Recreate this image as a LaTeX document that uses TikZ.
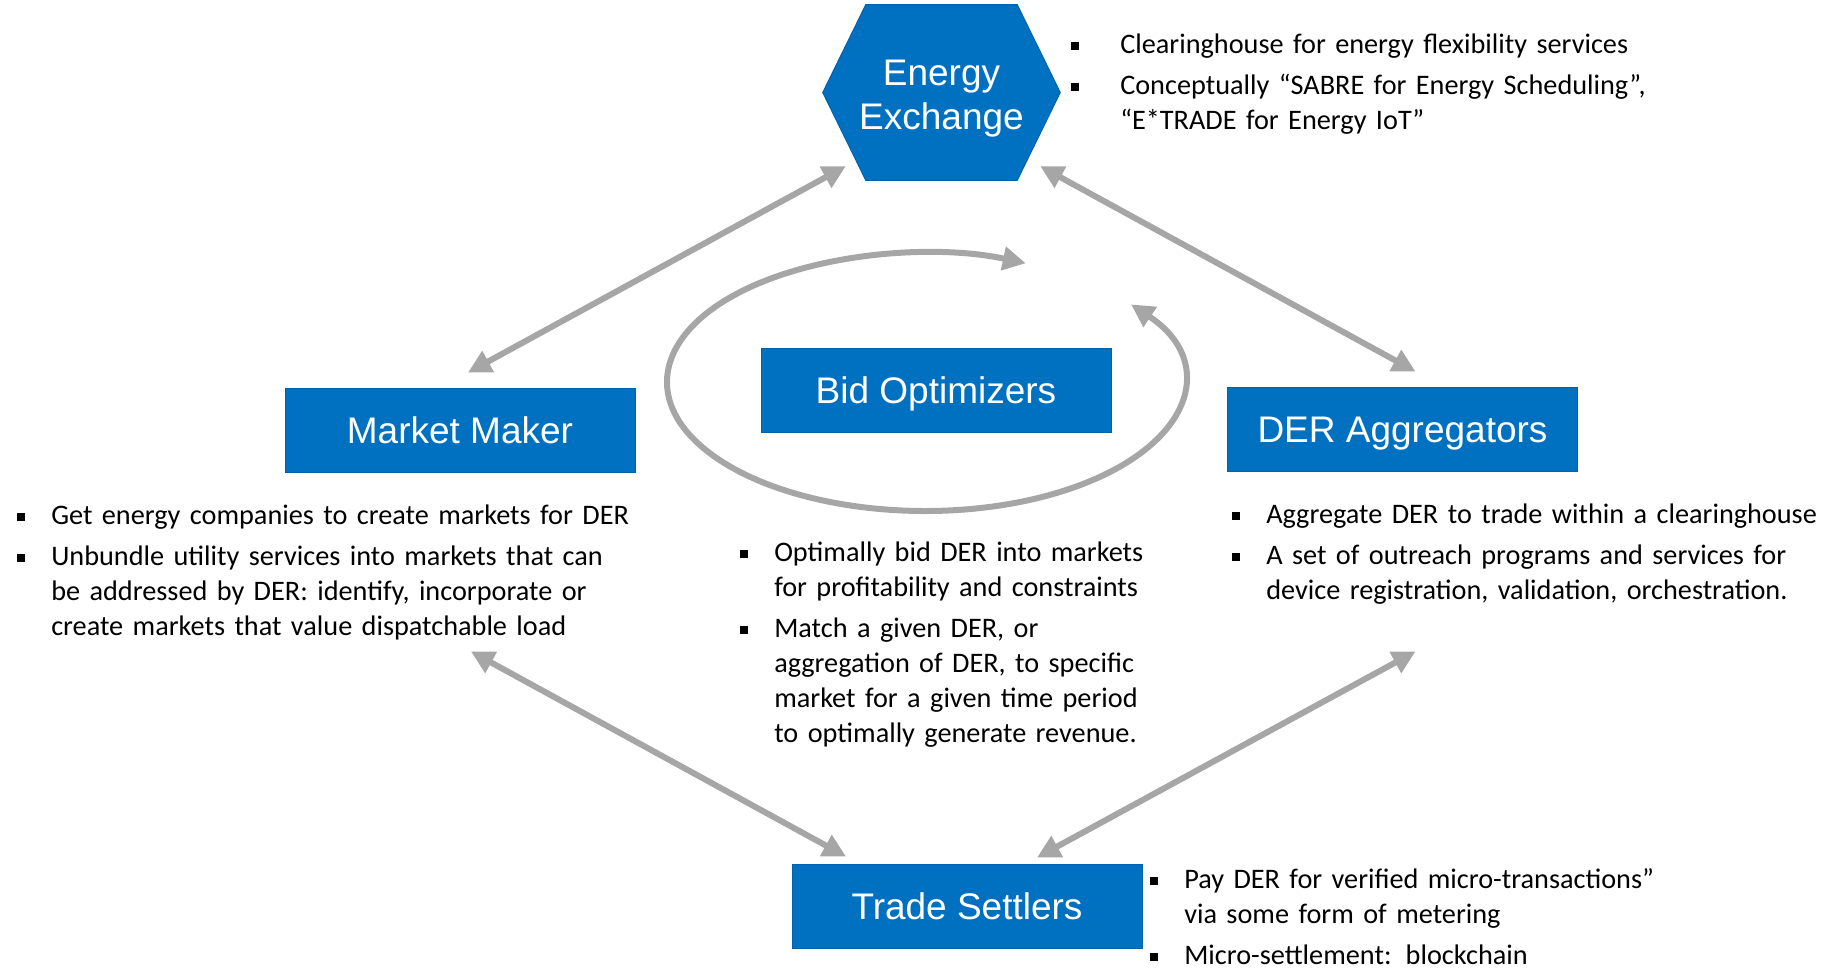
\documentclass[tikz,border=0pt]{standalone}
\usepackage{fontspec}
\setmainfont{Carlito}
\newfontfamily\boxfont{Liberation Sans}
\usetikzlibrary{arrows.meta}

\definecolor{exblue}{RGB}{0,112,192}
\definecolor{exedge}{RGB}{0,98,170}
\definecolor{exgray}{RGB}{166,166,166}

% bullet list with small black squares
\newcommand{\notelabel}[1]{#1\hfil}
\newenvironment{notelist}[1][25.5pt]{%
  \begin{list}{\raisebox{2.5pt}{\rule{6pt}{6pt}}}{%
    \setlength{\leftmargin}{#1}\setlength{\labelwidth}{#1}%
    \setlength{\labelsep}{0pt}\setlength{\itemsep}{4.5pt}%
    \setlength{\parsep}{0pt}\setlength{\topsep}{0pt}%
    \setlength{\partopsep}{0pt}\let\makelabel\notelabel}}%
  {\end{list}}

\tikzset{
  rolebox/.style={fill=exblue, draw=exedge, line width=0.75pt, text=white,
    font=\boxfont\fontsize{27.75}{33}\selectfont, text height=19.9pt, text depth=0pt,
    minimum width=262.5pt, minimum height=63pt, inner sep=0pt},
  notes/.style={anchor=north west, inner sep=0pt, text width=480pt, align=left,
    font=\fontsize{21.2}{26.25}\selectfont},
  flow/.style={draw=exgray, line width=4.5pt,
    {Triangle[length=17.25pt,width=17.25pt]}-{Triangle[length=17.25pt,width=17.25pt]}},
}

\begin{document}
\begin{tikzpicture}[x=0.75pt,y=0.75pt,yscale=-1,xscale=1]
\useasboundingbox (0,0) rectangle (1823,967);

%Shape: Hexagon [Energy Exchange]
\node (ex) [minimum width=177.75pt, minimum height=131.25pt, inner sep=0pt] at (941.5,92.5) {};
\filldraw [fill=exblue, draw=exedge, line width=0.75pt] (ex.west) -- ([shift={(43,0)}]ex.north west) -- ([shift={(-43,0)}]ex.north east) -- (ex.east) -- ([shift={(-43,0)}]ex.south east) -- ([shift={(43,0)}]ex.south west) -- cycle ;
\node (extext) [text=white, font=\boxfont\fontsize{27.75}{33}\selectfont, align=center] at ([shift={(0,6)}]ex.center) {Energy\\Exchange};

%Shape: Rectangles
\node (mm) [rolebox] at (460,430) {Market Maker};
\node (bo) [rolebox] at (936,390) {Bid Optimizers};
\node (der) [rolebox] at (1402.5,429) {DER Aggregators};
\node (ts) [rolebox] at (967,906) {Trade Settlers};

%Straight Lines
\draw [flow] ([shift={(8,-15)}]mm.north) -- ([shift={(23,-14)}]ex.south west) ;
\draw [flow] ([shift={(-20,-14)}]ex.south east) -- ([shift={(13,-15)}]der.north) ;
\draw [flow] ([shift={(11,179)}]mm.south) -- ([shift={(-121,-7)}]ts.north) ;
\draw [flow] ([shift={(13,180)}]der.south) -- ([shift={(70,-6)}]ts.north) ;

%Arc round the bid optimizers
\coordinate (loopc) at (925,382);
\draw [flow] ([shift={(-37:258 and 129)}]loopc) arc [start angle=-37, end angle=293, x radius=258, y radius=129] ;

% Text Node
\node (exnotes) [notes] at (1071,18) {\begin{notelist}[36.75pt]
\item Clearinghouse for energy flexibility services
\item Conceptually “SABRE for Energy Scheduling”,\\ “E*TRADE for Energy IoT”
\end{notelist}};
% Text Node
\node (mmnotes) [notes] at (17,489) {\begin{notelist}
\item Get energy companies to create markets for DER
\item Unbundle utility services into markets that can\\ be addressed by DER: identify, incorporate or\\ create markets that value dispatchable load
\end{notelist}};
% Text Node
\node (bonotes) [notes] at (740,526) {\begin{notelist}
\item Optimally bid DER into markets\\ for profitability and constraints
\item Match a given DER, or\\ aggregation of DER, to specific\\ market for a given time period\\ to optimally generate revenue.
\end{notelist}};
% Text Node
\node (dernotes) [notes] at (1232,488) {\begin{notelist}
\item Aggregate DER to trade within a clearinghouse
\item A set of outreach programs and services for\\ device registration, validation, orchestration.
\end{notelist}};
% Text Node
\node (tsnotes) [notes] at (1150,853) {\begin{notelist}
\item Pay DER for verified micro-transactions”\\ via some form of metering
\item Micro-settlement: blockchain
\end{notelist}};

\end{tikzpicture}
\end{document}
